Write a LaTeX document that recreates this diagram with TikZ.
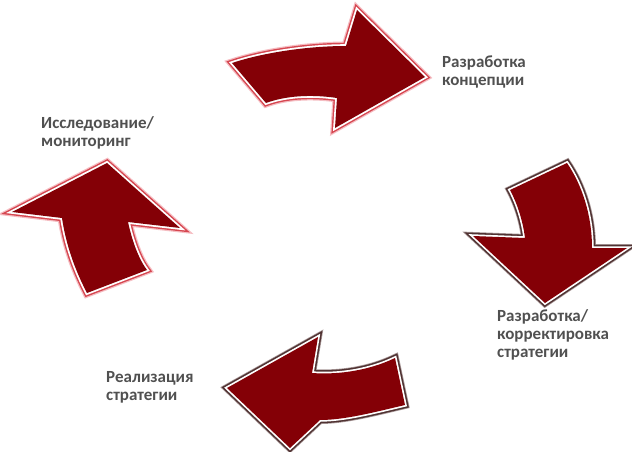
\documentclass[tikz,border=0pt]{standalone}
\usepackage{fontspec}
\setmainfont{Carlito}
\usetikzlibrary{positioning}

\definecolor{arrowred}{RGB}{132,0,6}
\definecolor{rimpink}{RGB}{214,70,80}
\definecolor{rimglow}{RGB}{245,190,195}
\definecolor{rimdark}{RGB}{80,50,50}
\definecolor{labelgray}{RGB}{80,80,80}

\tikzset{
  pinkarrow/.style={fill=arrowred,
    preaction={draw=rimglow, line width=9pt, line join=miter},
    preaction={draw=rimpink, line width=6.5pt, line join=miter},
    preaction={draw=white, line width=3.6pt, line join=miter}},
  darkarrow/.style={fill=arrowred,
    preaction={draw=rimdark!50, line width=8pt, line join=miter},
    preaction={draw=rimdark, line width=6.5pt, line join=miter},
    preaction={draw=white, line width=3.4pt, line join=miter}},
  steplabel/.style={text=labelgray, font=\bfseries\fontsize{17}{18}\selectfont,
    align=left, anchor=north west, inner sep=0pt}
}

\begin{document}
\begin{tikzpicture}[x=1pt, y=-1pt]
        \useasboundingbox (0,0) rectangle (632,452);

        % top arrow
        \path[pinkarrow] (232,63) .. controls (265,52) and (310,46) .. (346,46)
            -- (357,10) -- (425,77) -- (335,128) -- (337,98)
            .. controls (310,94) and (285,96) .. (266,103) -- cycle;
        % right arrow
        \path[darkarrow] (510,190) -- (567,163)
            .. controls (582,185) and (592,215) .. (592,248)
            -- (627,248) -- (545,303) -- (473,236) -- (525,238)
            .. controls (523,222) and (518,205) .. (510,190) -- cycle;
        % bottom arrow
        \path[darkarrow] (227,388) -- (318,337) -- (312,373)
            .. controls (340,375) and (370,370) .. (395,358) -- (405,405)
            .. controls (375,412) and (345,420) .. (320,420) -- (290,448) -- cycle;
        % left arrow
        \path[pinkarrow] (107,163) -- (180,228) -- (128,222)
            .. controls (132,240) and (138,258) .. (147,270) -- (87,293)
            .. controls (75,270) and (66,245) .. (62,218) -- (12,212) -- cycle;

        \node[steplabel] (concept) at (442,56) {Разработка\\концепции};
        \node[steplabel] (strategy) at (497,309) {Разработка/\\корректировка\\стратегии};
        \node[steplabel] (realize) at (106,371) {Реализация\\стратегии};
        \node[steplabel] (research) at (41,116) {Исследование/\\мониторинг};
\end{tikzpicture}
\end{document}
